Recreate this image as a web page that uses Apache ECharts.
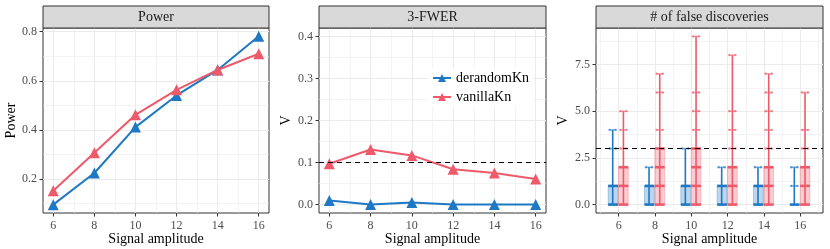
<!DOCTYPE html>
<html><head><meta charset="utf-8">
<script src="https://cdn.jsdelivr.net/npm/echarts@6/dist/echarts.min.js"></script>
<style>html,body{margin:0;padding:0;background:#fff}#c{width:830px;height:249px}</style>
</head><body><div id="c"></div>
<script>
// ---------------- data ----------------
const amplitudes = [6, 8, 10, 12, 14, 16];
const methods = ['derandomKn', 'vanillaKn'];
const panelTitles = ['Power', '3-FWER', '# of false discoveries'];

const powerDerandom = [0.095, 0.224, 0.411, 0.540, 0.644, 0.781];
const powerVanilla  = [0.152, 0.307, 0.461, 0.563, 0.644, 0.710];

const fwerDerandom = [0.010, 0.000, 0.005, 0.000, 0.000, 0.000];
const fwerVanilla  = [0.097, 0.131, 0.117, 0.084, 0.075, 0.061];
const fwerLevel = 0.1;

// false discoveries (V) distribution summaries
const fdDerandomQ1  = [0, 0, 0, 0, 0, 0];
const fdDerandomQ3  = [1, 1, 1, 1, 1, 0];
const fdDerandomMax = [4, 2, 3, 2, 2, 2];
const fdDerandomLevels = [[0,1,3,4],[0,1,2],[0,1,3],[0,1,2],[0,1,2],[0,1,2]];
const fdVanillaQ1  = [0, 0, 0, 0, 0, 0];
const fdVanillaQ3  = [2, 3, 3, 2, 2, 2];
const fdVanillaMax = [5, 7, 9, 8, 7, 6];
const fdVanillaLevels = [[0,1,2,3,4,5],[0,1,2,3,4,6,7],[0,1,2,3,4,5,6,9],[0,1,2,3,4,5,8],[0,1,2,3,4,5,6,7],[0,1,2,3,4,6]];
const fdLevel = 3;

// tick labels
const xTicks = [6, 8, 10, 12, 14, 16];
const powerTicks = [0.2, 0.4, 0.6, 0.8];
const fwerTicks = [0, 0.1, 0.2, 0.3, 0.4];
const fdTicks = [0, 2.5, 5, 7.5];

// ---------------- style ----------------
const FONT = '"Liberation Serif", "Times New Roman", serif';
const BLUE = '#1F78C4', RED = '#EE5A6A';
const GRID_COL = '#EBEBEB';
const grids = [
  {left: 43, top: 28, width: 226, height: 185},
  {left: 319, top: 28, width: 227, height: 185},
  {left: 596, top: 28, width: 227, height: 185}
];
function rgba(hex, a) {
  const n = parseInt(hex.slice(1), 16);
  return 'rgba(' + (n >> 16) + ',' + ((n >> 8) & 255) + ',' + (n & 255) + ',' + a + ')';
}
function xAxis(i, min, max) {
  return {
    type: 'value', gridIndex: i, min: min, max: max,
    name: 'Signal amplitude', nameLocation: 'middle', nameGap: 19, nameMoveOverlap: false,
    nameTextStyle: {fontFamily: FONT, fontSize: 14, color: '#000'},
    axisLine: {show: false, onZero: false}, splitLine: {show: false},
    axisTick: {show: true, customValues: xTicks, length: 3.5, lineStyle: {color: '#333'}},
    axisLabel: {customValues: xTicks, margin: 7, fontFamily: FONT, fontSize: 12, color: '#4D4D4D'}
  };
}
function yAxis(i, min, max, ticks, name, gap, fmt) {
  return {
    type: 'value', gridIndex: i, min: min, max: max,
    name: name, nameLocation: 'middle', nameGap: gap,
    nameTextStyle: {fontFamily: FONT, fontSize: 14, color: '#000'},
    axisLine: {show: false, onZero: false}, splitLine: {show: false},
    axisTick: {show: true, customValues: ticks, length: 3.5, lineStyle: {color: '#333'}},
    axisLabel: {customValues: ticks, margin: 6, fontFamily: FONT, fontSize: 12, color: '#4D4D4D', formatter: fmt}
  };
}
function gridLines(i, xMajor, xMinor, yMajor, yMinor) {
  const d = [];
  xMinor.forEach(v => d.push({xAxis: v, lineStyle: {width: 0.6}}));
  yMinor.forEach(v => d.push({yAxis: v, lineStyle: {width: 0.6}}));
  xMajor.forEach(v => d.push({xAxis: v, lineStyle: {width: 1}}));
  yMajor.forEach(v => d.push({yAxis: v, lineStyle: {width: 1}}));
  return {
    type: 'line', xAxisIndex: i, yAxisIndex: i, data: [], z: 1, silent: true,
    markLine: {z: 1, silent: true, symbol: ['none', 'none'], label: {show: false}, animation: false,
      lineStyle: {color: GRID_COL, type: 'solid'}, data: d}
  };
}
function lineSeries(name, i, vals, color) {
  return {
    name: name, type: 'line', xAxisIndex: i, yAxisIndex: i, z: 3,
    data: amplitudes.map((a, k) => [a, vals[k]]),
    symbol: 'triangle', symbolSize: 11,
    itemStyle: {color: color}, lineStyle: {color: color, width: 2}
  };
}
function threshold(i, v) {
  return {
    type: 'line', xAxisIndex: i, yAxisIndex: i, data: [], z: 6, silent: true,
    markLine: {z: 6, silent: true, symbol: ['none', 'none'], label: {show: false}, animation: false,
      lineStyle: {color: '#000', type: [5, 4], width: 1.2}, data: [{yAxis: v}]}
  };
}
function fdSeries(name, q1s, q3s, maxs, levels, boxL, boxR, wx, color) {
  return {
    name: name, type: 'custom', xAxisIndex: 2, yAxisIndex: 2, z: 3,
    data: amplitudes.map((a, k) => [a, q1s[k], q3s[k], maxs[k]]),
    encode: {x: 0, y: [1, 2, 3]},
    renderItem: function (params, api) {
      const k = params.dataIndex;
      const x = api.value(0), q1 = api.value(1), q3 = api.value(2), mx = api.value(3);
      const ch = [];
      if (q3 > q1) {
        const a = api.coord([x + boxL, q3]), b = api.coord([x + boxR, q1]);
        ch.push({type: 'rect', shape: {x: a[0], y: a[1], width: b[0] - a[0], height: b[1] - a[1]},
          style: {fill: rgba(color, 0.3), stroke: rgba(color, 0.3), lineWidth: 1}});
      }
      const w0 = api.coord([x + wx, q1]), w1 = api.coord([x + wx, mx]);
      ch.push({type: 'line', shape: {x1: w0[0], y1: w0[1], x2: w1[0], y2: w1[1]},
        style: {stroke: color, lineWidth: 1.6}});
      levels[k].forEach(v => {
        if (v <= q3) {
          const p = api.coord([x + boxL, v]), q = api.coord([x + boxR, v]);
          ch.push({type: 'line', shape: {x1: p[0], y1: p[1], x2: q[0], y2: q[1]},
            style: {stroke: color, lineWidth: 2.6}});
        } else {
          const p = api.coord([x + wx - 0.17, v]), q = api.coord([x + wx + 0.17, v]);
          ch.push({type: 'line', shape: {x1: p[0], y1: p[1], x2: q[0], y2: q[1]},
            style: {stroke: rgba(color, 0.6), lineWidth: 1.4}});
          ch.push({type: 'circle', shape: {cx: p[0], cy: p[1], r: 1.2}, style: {fill: rgba(color, 0.7)}});
          ch.push({type: 'circle', shape: {cx: q[0], cy: q[1], r: 1.2}, style: {fill: rgba(color, 0.7)}});
        }
      });
      return {type: 'group', children: ch};
    }
  };
}

const graphics = [];
grids.forEach((g, i) => {
  graphics.push({type: 'rect', z: 10, shape: {x: g.left, y: 6, width: g.width, height: g.top - 6},
    style: {fill: '#D9D9D9', stroke: '#333', lineWidth: 1}});
  graphics.push({type: 'text', z: 11, x: g.left + g.width / 2, y: 6 + (g.top - 6) / 2,
    style: {text: panelTitles[i], font: '14px ' + FONT, fill: '#1A1A1A', align: 'center', verticalAlign: 'middle'}});
});

const fmt1 = v => v.toFixed(1);
const option = {
  animation: false,
  backgroundColor: '#fff',
  grid: grids.map(g => Object.assign({show: true, borderColor: '#333', borderWidth: 1, backgroundColor: '#fff',
    containLabel: false, outerBoundsMode: 'none'}, g)),
  xAxis: [xAxis(0, 5.5, 16.5), xAxis(1, 5.5, 16.5), xAxis(2, 4.75, 17.25)],
  yAxis: [
    yAxis(0, 0.061, 0.815, powerTicks, 'Power', 24, fmt1),
    yAxis(1, -0.02, 0.42, fwerTicks, 'V', 26, fmt1),
    yAxis(2, -0.45, 9.45, fdTicks, 'V', 26, fmt1)
  ],
  legend: {
    data: methods, left: 428, top: 68, orient: 'vertical', itemWidth: 18, itemHeight: 10, itemGap: 5,
    backgroundColor: '#fff', padding: [3, 4, 3, 4], z: 7,
    textStyle: {fontFamily: FONT, fontSize: 14, color: '#000'}
  },
  graphic: graphics,
  series: [
    lineSeries(methods[0], 0, powerDerandom, BLUE),
    lineSeries(methods[1], 0, powerVanilla, RED),
    lineSeries(methods[0], 1, fwerDerandom, BLUE),
    lineSeries(methods[1], 1, fwerVanilla, RED),
    gridLines(0, xTicks, [7, 9, 11, 13, 15], powerTicks, [0.1, 0.3, 0.5, 0.7]),
    gridLines(1, xTicks, [7, 9, 11, 13, 15], fwerTicks, [0.05, 0.15, 0.25, 0.35]),
    gridLines(2, xTicks, [5, 7, 9, 11, 13, 15, 17], fdTicks, [1.25, 3.75, 6.25, 8.75]),
    threshold(1, fwerLevel),
    threshold(2, fdLevel),
    fdSeries(methods[0], fdDerandomQ1, fdDerandomQ3, fdDerandomMax, fdDerandomLevels, -0.58, -0.04, -0.33, BLUE),
    fdSeries(methods[1], fdVanillaQ1, fdVanillaQ3, fdVanillaMax, fdVanillaLevels, -0.01, 0.53, 0.26, RED)
  ]
};
const chart = echarts.init(document.getElementById('c'), null, {renderer: 'canvas'});
chart.setOption(option);
</script>
</body></html>
